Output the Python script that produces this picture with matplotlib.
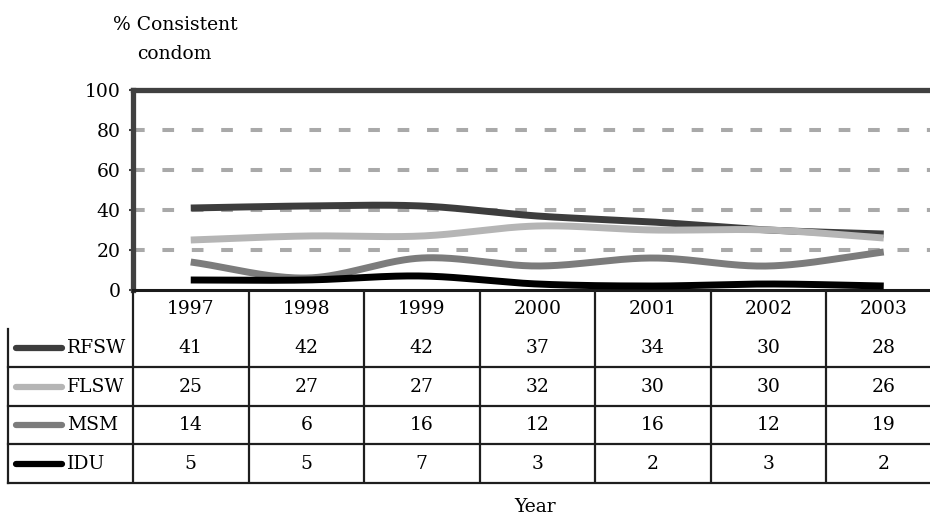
import numpy as np
import matplotlib
matplotlib.use("Agg")
import matplotlib.pyplot as plt

plt.rcParams["font.family"] = ["DejaVu Serif"]

years = ["1997", "1998", "1999", "2000", "2001", "2002", "2003"]
series_names = ["RFSW", "FLSW", "MSM", "IDU"]
rfsw = [41, 42, 42, 37, 34, 30, 28]
flsw = [25, 27, 27, 32, 30, 30, 26]
msm = [14, 6, 16, 12, 16, 12, 19]
idu = [5, 5, 7, 3, 2, 3, 2]
series_values = [rfsw, flsw, msm, idu]
series_colors = ["#3d3d3d", "#b5b5b5", "#7c7c7c", "#000000"]
y_ticks = [0, 20, 40, 60, 80, 100]

W, H, DPI = 930, 515, 100
FS = 13.5


def smooth(xs, ys, n=40):
    """Catmull-Rom curve through the points (Excel-style smoothed line)."""
    xs = np.asarray(xs, float)
    ys = np.asarray(ys, float)
    px = np.concatenate([[2 * xs[0] - xs[1]], xs, [2 * xs[-1] - xs[-2]]])
    py = np.concatenate([[2 * ys[0] - ys[1]], ys, [2 * ys[-1] - ys[-2]]])
    outx, outy = [], []
    t = np.linspace(0, 1, n, endpoint=False)
    for i in range(1, len(px) - 2):
        for p, o in ((px, outx), (py, outy)):
            p0, p1, p2, p3 = p[i - 1], p[i], p[i + 1], p[i + 2]
            o.extend(0.5 * ((2 * p1) + (-p0 + p2) * t
                            + (2 * p0 - 5 * p1 + 4 * p2 - p3) * t ** 2
                            + (-p0 + 3 * p1 - 3 * p2 + p3) * t ** 3))
    outx.append(xs[-1])
    outy.append(ys[-1])
    return np.array(outx), np.array(outy)


fig = plt.figure(figsize=(W / DPI, H / DPI), dpi=DPI)
fig.patch.set_facecolor("white")

col_w = 115.5  # pixels per category
ax_left, ax_top, ax_bottom = 133, 90, 290
ncat = len(years)
ax_right = ax_left + ncat * col_w

ax = fig.add_axes([ax_left / W, 1 - ax_bottom / H,
                   (ax_right - ax_left) / W, (ax_bottom - ax_top) / H])
ax.set_xlim(-0.5, ncat - 0.5)
ax.set_ylim(0, 100)
ax.set_facecolor("white")

# dashed horizontal gridlines
for v in y_ticks[1:-1]:
    ax.axhline(v, color="#a9a9a9", lw=2.9, dashes=(2.9, 4.4), zorder=1,
               dash_capstyle="butt")

xs = np.arange(ncat)
for vals, col in zip(series_values, series_colors):
    sx, sy = smooth(xs, vals)
    ax.plot(sx, sy, color=col, lw=5.0, solid_capstyle="butt", zorder=3)

for side in ("top", "left"):
    ax.spines[side].set_color("#404040")
    ax.spines[side].set_linewidth(3.8)
ax.spines["bottom"].set_color("#1a1a1a")
ax.spines["bottom"].set_linewidth(2.2)
ax.spines["right"].set_visible(False)

ax.set_yticks(y_ticks)
ax.set_yticklabels([str(v) for v in y_ticks], fontsize=FS)
ax.tick_params(axis="y", length=3, width=1.5, color="#404040", pad=6)
ax.set_xticks([])

# data table beneath the plot
tbl_left, tbl_bottom = 8, 483
tax = fig.add_axes([tbl_left / W, 1 - tbl_bottom / H,
                    (ax_right - tbl_left) / W, (tbl_bottom - ax_bottom) / H])
x0 = -0.5 - (ax_left - tbl_left) / col_w
tax.set_xlim(x0, ncat - 0.5)
nrows = len(series_names) + 1
tax.set_ylim(0, nrows)
tax.axis("off")

lc, lw = "#1e1e1e", 1.6
# vertical column boundaries
for k in range(ncat + 1):
    xb = -0.5 + k
    tax.plot([xb, xb], [0, nrows], color=lc, lw=lw, clip_on=False,
             solid_capstyle="butt")
tax.plot([x0, x0], [0, nrows - 1], color=lc, lw=lw, clip_on=False)
# horizontal row boundaries
for r in range(nrows - 1):
    tax.plot([x0, ncat - 0.5], [r, r], color=lc, lw=lw, clip_on=False)

for i, yr in enumerate(years):
    tax.text(i, nrows - 0.5, yr, ha="center", va="center", fontsize=FS)

for r, (name, vals, col) in enumerate(zip(series_names, series_values, series_colors)):
    yc = nrows - 1.5 - r
    tax.plot([x0 + 8 / col_w, x0 + 54 / col_w], [yc, yc], color=col, lw=4.5,
             solid_capstyle="round")
    tax.text(x0 + 59 / col_w, yc, name, ha="left", va="center", fontsize=FS)
    for i, v in enumerate(vals):
        tax.text(i, yc, str(v), ha="center", va="center", fontsize=FS)

fig.text(113 / W, 1 - 25 / H, "% Consistent", ha="left", va="center", fontsize=FS)
fig.text(137 / W, 1 - 54 / H, "condom", ha="left", va="center", fontsize=FS)
fig.text(535 / W, 1 - 507 / H, "Year", ha="center", va="center", fontsize=FS)

fig.savefig("out.png", dpi=DPI, facecolor="white")
